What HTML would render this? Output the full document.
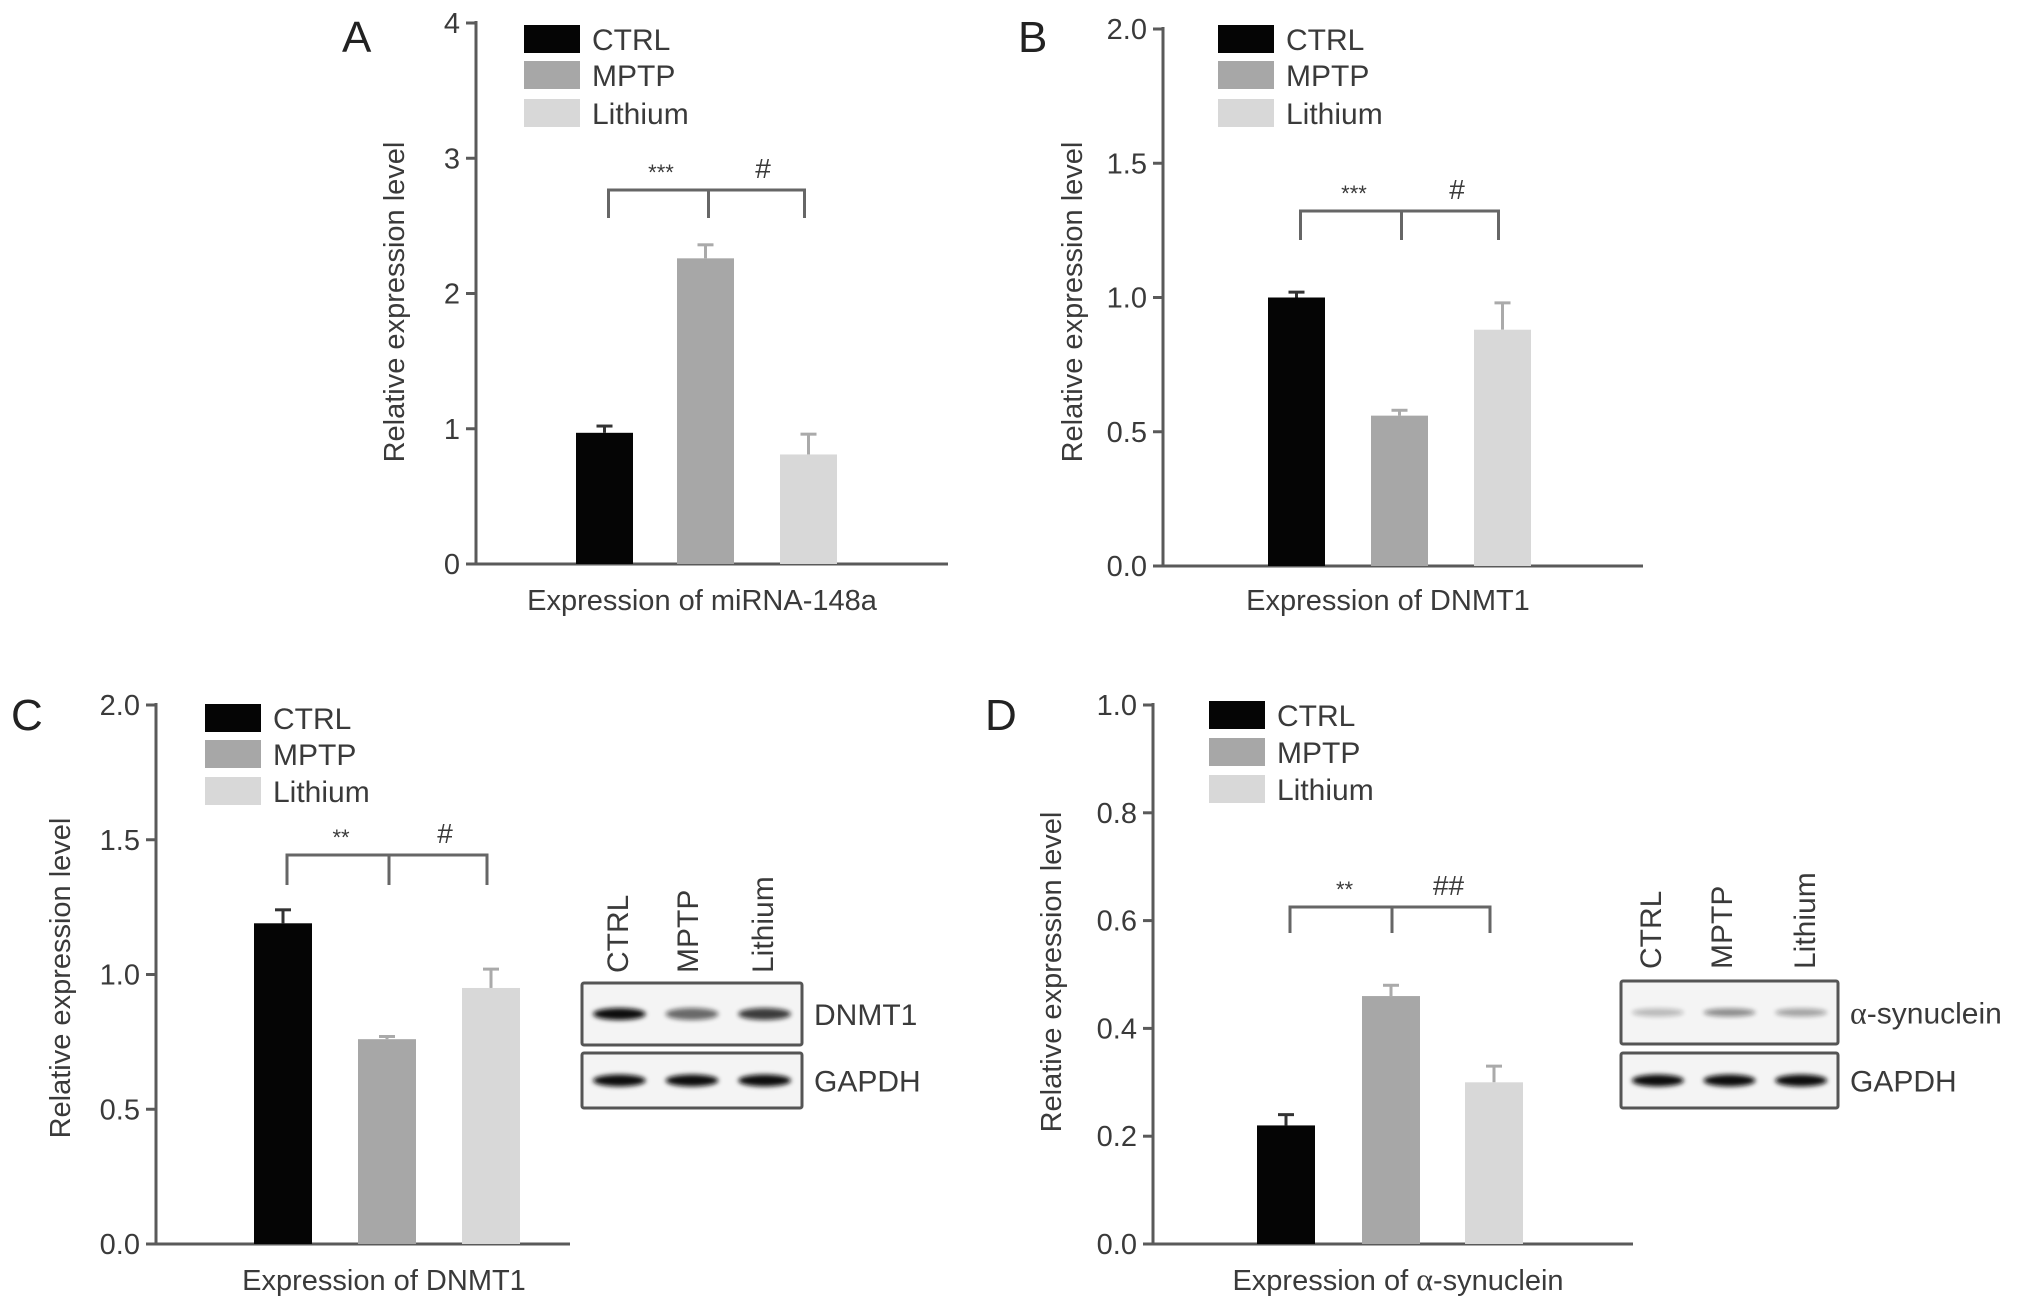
<!DOCTYPE html>
<html><head><meta charset="utf-8"><style>
html,body{margin:0;padding:0;background:#fff;}
svg{display:block;font-family:"Liberation Sans",sans-serif;}
</style></head><body>
<svg id="fig" width="2032" height="1312" viewBox="0 0 2032 1312" xmlns="http://www.w3.org/2000/svg">
<defs><filter id="blur" x="-20%" y="-50%" width="140%" height="200%"><feGaussianBlur stdDeviation="2.5"/></filter></defs>
</svg>
<script>
const categories = ["CTRL","MPTP","Lithium"];
const colors = ["#050505","#a7a7a7","#d8d8d8"];
const valuesA = [0.97, 2.26, 0.81];
const errorsA = [0.05, 0.10, 0.15];
const ticksA = [0,1,2,3,4];
const tickLabelsA = ["0","1","2","3","4"];
const valuesB = [1.00, 0.56, 0.88];
const errorsB = [0.02, 0.02, 0.10];
const ticksB = [0,0.5,1,1.5,2];
const tickLabelsB = ["0.0","0.5","1.0","1.5","2.0"];
const valuesC = [1.19, 0.76, 0.95];
const errorsC = [0.05, 0.01, 0.07];
const ticksC = [0,0.5,1,1.5,2];
const tickLabelsC = ["0.0","0.5","1.0","1.5","2.0"];
const valuesD = [0.22, 0.46, 0.30];
const errorsD = [0.02, 0.02, 0.03];
const ticksD = [0,0.2,0.4,0.6,0.8,1.0];
const tickLabelsD = ["0.0","0.2","0.4","0.6","0.8","1.0"];

const svg = document.getElementById('fig');
const NS = "http://www.w3.org/2000/svg";
function el(tag, attrs, parent, text){
  const e = document.createElementNS(NS, tag);
  for (const k in attrs) e.setAttribute(k, attrs[k]);
  if (text !== undefined) e.textContent = text;
  (parent||svg).appendChild(e);
  return e;
}
const TXT = "#3a3a3a", AX = "#5a5a5a";

function panel(cfg){
  const g = el('g', {});
  
  
  const yMax = cfg.ticks[cfg.ticks.length-1];
  const y = v => cfg.y0 - (v / yMax) * (cfg.y0 - cfg.y1);
  const L = el('text', {x: cfg.letterX, y: cfg.letterY, 'font-size': 44, fill: '#222'}, g, cfg.letter);
  
  
  const ya = el('line', {x1: cfg.ax, y1: cfg.y1 - 2, x2: cfg.ax, y2: cfg.y0, stroke: AX, 'stroke-width': 3}, g);
  
  
  const xa = el('line', {x1: cfg.ax - 10, y1: cfg.y0, x2: cfg.axEnd, y2: cfg.y0, stroke: AX, 'stroke-width': 3}, g);
  
  
  cfg.ticks.forEach((t, i) => {
    const ty = y(t);
    const tk = el('line', {x1: cfg.ax - 10, y1: ty, x2: cfg.ax, y2: ty, stroke: AX, 'stroke-width': 3}, g);
    
    
    const tl = el('text', {x: cfg.ax - 16, y: ty + 10, 'font-size': 29, fill: TXT, 'text-anchor': 'end'}, g, cfg.tickLabels[i]);
    
    
  });
  const yl = el('text', {x: 0, y: 0, 'font-size': 29, fill: TXT, 'text-anchor': 'middle', transform: `translate(${cfg.ylX},${cfg.ylY}) rotate(-90)`}, g, 'Relative expression level');
  
  
  const xt = el('text', {x: cfg.xtX, y: cfg.xtY, 'font-size': 29, fill: TXT, 'text-anchor': 'middle'}, g);
  
  
  if (cfg.alpha) {
    el('tspan', {}, xt, 'Expression of ');
    el('tspan', {'font-family': '"Liberation Serif",serif', 'font-size': 32}, xt, 'α');
    el('tspan', {}, xt, '-synuclein');
  } else xt.textContent = cfg.xTitle;
  const mids = [];
  categories.forEach((c, i) => {
    const bx = cfg.barX[i], bw = cfg.barW;
    const top = y(cfg.values[i]);
    const eTop = y(cfg.values[i] + cfg.errors[i]);
    const ec = colors[i] === '#050505' ? '#333' : '#aaa';
    const ebar = el('line', {x1: bx + bw/2, y1: top, x2: bx + bw/2, y2: eTop, stroke: ec, 'stroke-width': 3}, g);
    
    
    const cap = el('line', {x1: bx + bw/2 - 8, y1: eTop, x2: bx + bw/2 + 8, y2: eTop, stroke: ec, 'stroke-width': 3}, g);
    
    
    const r = el('rect', {x: bx, y: top, width: bw, height: cfg.y0 - top, fill: colors[i]}, g);
    
    
    mids.push(bx + bw/2);
  });
  categories.forEach((c, i) => {
    const ly = cfg.legY[i];
    const sw = el('rect', {x: cfg.legX, y: ly - 14, width: 56, height: 28, fill: colors[i]}, g);
    
    
    const lt = el('text', {x: cfg.legX + 68, y: ly + 11, 'font-size': 30, fill: TXT}, g, c);
    
    
  });
  const bt = cfg.brTop, bb = cfg.brBot;
  const br = el('path', {d: `M${mids[0]+4},${bb} V${bt} H${mids[2]-4} V${bb} M${(mids[0]+mids[2])/2+2},${bt} V${bb}`, fill: 'none', stroke: '#666', 'stroke-width': 3}, g);
  
  
  const s1 = el('text', {x: (mids[0]+mids[1])/2 + 6, y: bt - 10, 'font-size': 22, fill: TXT, 'text-anchor': 'middle'}, g, cfg.sig1);
  
  
  const s2 = el('text', {x: (mids[1]+mids[2])/2 + 6, y: bt - 12, 'font-size': 28, fill: TXT, 'text-anchor': 'middle'}, g, cfg.sig2);
  
  
  return g;
}

panel({letter:'A', letterX:342, letterY:52, ax:476, axEnd:948, y0:564, y1:23, ticks:ticksA, tickLabels:tickLabelsA,
  values:valuesA, errors:errorsA, barX:[576,677,780], barW:57, legX:524, legY:[39,75,113],
  ylX:404, ylY:302, xtX:702, xtY:610, xTitle:'Expression of miRNA-148a', brTop:190, brBot:218, sig1:'***', sig2:'#'});
panel({letter:'B', letterX:1018, letterY:52, ax:1163, axEnd:1643, y0:566, y1:29, ticks:ticksB, tickLabels:tickLabelsB,
  values:valuesB, errors:errorsB, barX:[1268,1371,1474], barW:57, legX:1218, legY:[39,75,113],
  ylX:1082, ylY:302, xtX:1388, xtY:610, xTitle:'Expression of DNMT1', brTop:211, brBot:240, sig1:'***', sig2:'#'});
panel({letter:'C', letterX:11, letterY:730, ax:156, axEnd:570, y0:1244, y1:705, ticks:ticksC, tickLabels:tickLabelsC,
  values:valuesC, errors:errorsC, barX:[254,358,462], barW:58, legX:205, legY:[718,754,791],
  ylX:70, ylY:978, xtX:384, xtY:1290, xTitle:'Expression of DNMT1', brTop:855, brBot:885, sig1:'**', sig2:'#'});
panel({letter:'D', letterX:985, letterY:730, ax:1153, axEnd:1633, y0:1244, y1:705, ticks:ticksD, tickLabels:tickLabelsD,
  values:valuesD, errors:errorsD, barX:[1257,1362,1465], barW:58, legX:1209, legY:[715,752,789],
  ylX:1061, ylY:972, xtX:1398, xtY:1290, alpha:true, brTop:907, brBot:933, sig1:'**', sig2:'##'});

function blot(cfg){
  const g = el('g', {});
  
  
  categories.forEach((c, i) => {
    const t = el('text', {x: 0, y: 0, 'font-size': 30, fill: TXT, transform: `translate(${cfg.labX[i]},${cfg.labBottom}) rotate(-90)`}, g, c);
    
    
  });
  [[cfg.b1y, cfg.b1h, cfg.band1, cfg.band1W], [cfg.b2y, cfg.b2h, [1,1,1], 6]].forEach((b, k) => {
    const r = el('rect', {x: cfg.x, y: b[0], width: cfg.w, height: b[1], fill: '#f4f4f4', stroke: '#555', 'stroke-width': 3, rx: 2}, g);
    
    
    categories.forEach((c, i) => {
      const cx = cfg.x + cfg.w * (0.17 + 0.33 * i);
      const band = el('ellipse', {cx: cx, cy: b[0] + b[1]/2, rx: cfg.w * 0.12, ry: b[3], fill: '#111', opacity: b[2][i], filter: 'url(#blur)'}, g);
      
      
    });
  });
  const l1 = el('text', {x: cfg.x + cfg.w + 12, y: cfg.b1y + cfg.b1h/2 + 11, 'font-size': 30, fill: TXT}, g);
  
  
  if (cfg.alpha) {
    el('tspan', {'font-family': '"Liberation Serif",serif', 'font-size': 32}, l1, 'α');
    el('tspan', {}, l1, '-synuclein');
  } else l1.textContent = cfg.label;
  const l2 = el('text', {x: cfg.x + cfg.w + 12, y: cfg.b2y + cfg.b2h/2 + 11, 'font-size': 30, fill: TXT}, g, 'GAPDH');
  
  
}
blot({name:'western-blot-dnmt1', x:582, w:220, b1y:983, b1h:62, b2y:1053, b2h:55, labX:[628,698,773], labBottom:973,
  band1:[1,0.6,0.8], band1W:6, label:'DNMT1'});
blot({name:'western-blot-synuclein', x:1621, w:217, b1y:981, b1h:63, b2y:1053, b2h:55, labX:[1661,1732,1815], labBottom:969,
  band1:[0.25,0.45,0.35], band1W:4, alpha:true});
</script>
</body></html>
